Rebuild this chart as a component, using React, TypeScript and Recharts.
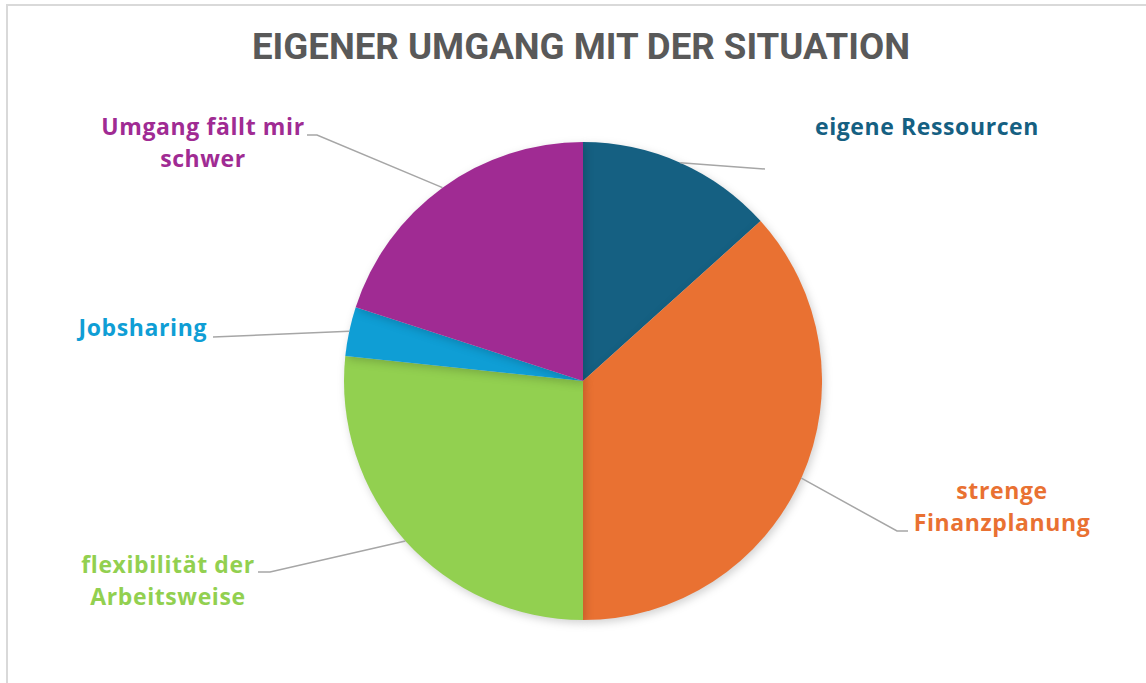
import React from 'react';
import { PieChart, Pie, Cell } from 'recharts';

const categories: string[] = [
  'eigene Ressourcen',
  'strenge Finanzplanung',
  'flexibilität der Arbeitsweise',
  'Jobsharing',
  'Umgang fällt mir schwer',
];
const counts: number[] = [4, 11, 8, 1, 6];
const labelLines: string[][] = [
  ['eigene Ressourcen'],
  ['strenge', 'Finanzplanung'],
  ['flexibilität der', 'Arbeitsweise'],
  ['Jobsharing'],
  ['Umgang fällt mir', 'schwer'],
];
const colors: string[] = ['#156082', '#E97132', '#92D050', '#0F9ED5', '#A02B93'];

const data = categories.map((name, i) => ({ name, value: counts[i] }));

// label placement (leader line bend/end and text block)
const layout = [
  { bend: [765, 169], end: [765, 169], tx: 927, ty: 135, anchor: 'middle' },
  { bend: [897, 531], end: [908, 531], tx: 1002, ty: 499, anchor: 'middle' },
  { bend: [270, 572], end: [258, 572], tx: 168, ty: 573, anchor: 'middle' },
  { bend: [213, 337], end: [213, 337], tx: 207, ty: 336, anchor: 'end' },
  { bend: [317, 135], end: [307, 135], tx: 203, ty: 135, anchor: 'middle' },
];

const RAD = Math.PI / 180;

const renderLabel = (props: any) => {
  const { cx, cy, midAngle, outerRadius, index } = props;
  const sx = cx + outerRadius * Math.cos(-midAngle * RAD);
  const sy = cy + outerRadius * Math.sin(-midAngle * RAD);
  const l = layout[index];
  return (
    <g>
      <path
        d={`M${sx},${sy}L${l.bend[0]},${l.bend[1]}L${l.end[0]},${l.end[1]}`}
        stroke="#a6a6a6"
        strokeWidth={1.5}
        fill="none"
      />
      <text
        x={l.tx}
        y={l.ty}
        textAnchor={l.anchor}
        fill={colors[index]}
        fontFamily="'Open Sans', sans-serif"
        fontWeight={700}
        fontSize={23}
        letterSpacing={0.6}
      >
        {labelLines[index].map((t, k) => (
          <tspan key={k} x={l.tx} dy={k === 0 ? 0 : 32}>
            {t}
          </tspan>
        ))}
      </text>
    </g>
  );
};

export default function App() {
  return (
    <div style={{ position: 'absolute', left: 0, top: 0, width: 1146, height: 683, background: '#fff' }}>
      <div
        style={{
          position: 'absolute',
          left: 6,
          top: 4,
          width: 1150,
          height: 700,
          border: '2px solid #d9d9d9',
          boxSizing: 'border-box',
        }}
      />
      <style>{`.recharts-pie-sector { filter: drop-shadow(2px 3px 4px rgba(0,0,0,0.18)); }`}</style>
      <svg style={{ position: 'absolute', left: 0, top: 0 }} width={1146} height={90}>
        <text
          x={581}
          y={59}
          textAnchor="middle"
          fill="#595959"
          fontFamily="Roboto, sans-serif"
          fontWeight={700}
          fontSize={36}
          textLength={658}
          lengthAdjust="spacingAndGlyphs"
        >
          EIGENER UMGANG MIT DER SITUATION
        </text>
      </svg>
      <div style={{ position: 'absolute', left: 0, top: 0 }}>
        <PieChart width={1146} height={683} margin={{ top: 0, right: 0, bottom: 0, left: 0 }}>
          <Pie
            data={data}
            dataKey="value"
            nameKey="name"
            cx={583}
            cy={381}
            outerRadius={239}
            startAngle={90}
            endAngle={-270}
            stroke="none"
            label={renderLabel}
            labelLine={false}
            isAnimationActive={false}
          >
            {data.map((d, i) => (
              <Cell key={d.name} fill={colors[i]} />
            ))}
          </Pie>
        </PieChart>
      </div>
    </div>
  );
}
